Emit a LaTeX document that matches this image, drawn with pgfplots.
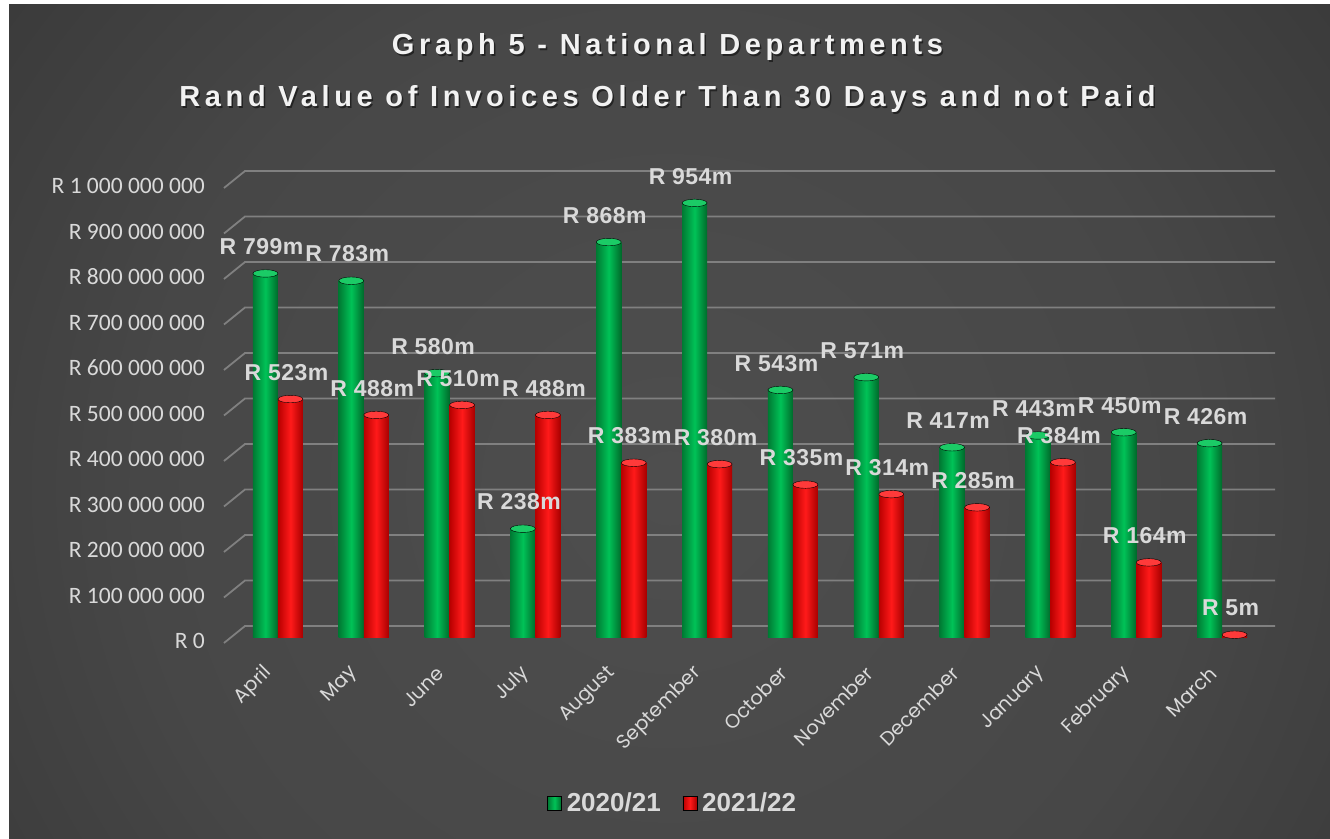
\documentclass[border=0pt]{standalone}
\usepackage{fontspec}
\setmainfont{Liberation Sans}
\usepackage{pgfplots}
\usepackage{pgfplotstable}
\pgfplotsset{compat=1.18}
\newfontfamily\titlefont[LetterSpace=16]{Liberation Sans}
\newfontfamily\lblfont[LetterSpace=2]{Liberation Sans}
\newfontfamily\tickfont{Carlito}
\newfontfamily\xfont{Poppins}
\definecolor{bgA}{HTML}{4E4E4E}
\definecolor{bgB}{HTML}{474747}
\definecolor{bgE}{HTML}{3A3A3A}
\definecolor{bgD}{HTML}{2A2A2A}
\definecolor{bgC}{HTML}{262626}
\definecolor{gridc}{HTML}{808080}
\definecolor{lblc}{HTML}{D9D9D9}
\definecolor{titlec}{HTML}{F2F2F2}
\definecolor{gL}{HTML}{007A33}
\definecolor{gM}{HTML}{00C257}
\definecolor{gR}{HTML}{006A2B}
\definecolor{gT}{HTML}{1BCB66}
\definecolor{rL}{HTML}{B80000}
\definecolor{rM}{HTML}{FF1A1A}
\definecolor{rR}{HTML}{A80000}
\definecolor{rT}{HTML}{FF3A3A}
\pgfdeclareradialshading{bgshade}{\pgfpoint{0bp}{0bp}}{color(0bp)=(bgA); color(20bp)=(bgB); color(32bp)=(bgE); color(50bp)=(bgD); color(72bp)=(bgC)}
\pgfplotstableread{
idx a b
0 799 523
1 783 488
2 580 510
3 238 488
4 868 383
5 954 380
6 543 335
7 571 314
8 417 285
9 443 384
10 450 164
11 426 5
}\datatable
\begin{document}
\begin{tikzpicture}
\fill[white] (0pt,0pt) rectangle (1330pt,838pt);
\begin{scope}
\clip (9pt,0pt) rectangle (1330pt,833pt);
\shade[shading=bgshade] (9pt,-300pt) rectangle (1330pt,1000pt);
\end{scope}
\node[font=\titlefont\bfseries\fontsize{29}{34}\selectfont, text=black, opacity=0.5] at (669pt, 789pt) {Graph 5 - National Departments};
\node[font=\titlefont\bfseries\fontsize{29}{34}\selectfont, text=titlec] at (667.5pt, 791pt) {Graph 5 - National Departments};
\node[font=\titlefont\bfseries\fontsize{29}{34}\selectfont, text=black, opacity=0.5] at (669pt, 737pt) {Rand Value of Invoices Older Than 30 Days and not Paid};
\node[font=\titlefont\bfseries\fontsize{29}{34}\selectfont, text=titlec] at (667.5pt, 739pt) {Rand Value of Invoices Older Than 30 Days and not Paid};
\begin{axis}[
  at={(235pt,201pt)}, anchor=south west,
  scale only axis, width=1030pt, height=455pt,
  xmin=-0.5, xmax=11.5, ymin=0, ymax=1000,
  clip=false,
  axis line style={draw=none},
  major tick length=0pt,
  ybar=0pt, bar width=25pt,
  xtick={0,...,11},
  xticklabels={April,May,June,July,August,September,October,November,December,January,February,March},
  xticklabel style={font=\xfont\fontsize{19.5}{23}\selectfont, text=lblc, inner sep=0pt, xshift=-9pt, yshift=-33pt, rotate=45, anchor=east},
  ytick={0,100,...,1000},
  yticklabels={R 0,R 100 000 000,R 200 000 000,R 300 000 000,R 400 000 000,R 500 000 000,R 600 000 000,R 700 000 000,R 800 000 000,R 900 000 000,R 1 000 000 000},
  yticklabel style={font=\tickfont\fontsize{23.5}{27}\selectfont, text=lblc, anchor=east, inner sep=0pt, xshift=-30pt, yshift=-4pt},
  /pgf/number format/assume math mode=true,
  nodes near coords={R \pgfmathprintnumber{\pgfplotspointmeta}m},
  every node near coord/.append style={font=\lblfont\bfseries\fontsize{23}{27}\selectfont, text=lblc, anchor=south, yshift=15pt},
  legend style={at={(0.425,-0.365)}, anchor=center, draw=none, fill=none, legend columns=2,
    font=\bfseries\fontsize{26}{30}\selectfont, text=lblc,
    /tikz/every odd column/.append style={column sep=3pt},
    /tikz/every even column/.append style={column sep=20pt}},
  greenbar/.style={draw=none, left color=gL, right color=gR, middle color=gM, bar shift=-12.5pt,
    mark=*, mark size=12.5pt, mark options={xshift=-12.5pt, yscale=0.3, fill=gT, draw=none},
    every node near coord/.append style={xshift=8.5pt}},
  redbar/.style={draw=none, left color=rL, right color=rR, middle color=rM, bar shift=12.5pt,
    mark=*, mark size=12.5pt, mark options={xshift=12.5pt, yscale=0.3, fill=rT, draw=none},
    every node near coord/.append style={xshift=-16.5pt}},
]
\pgfplotsinvokeforeach{0,100,...,1000}{
  \draw[gridc, line width=1.8pt] ([xshift=-11pt,yshift=-6pt]axis cs:-0.5,#1) -- ([xshift=10pt,yshift=11pt]axis cs:-0.5,#1) -- ([xshift=10pt,yshift=11pt]axis cs:11.5,#1);
}
\addlegendimage{legend image code/.code={\fill[left color=gL, right color=gR, middle color=gM] (0pt,-7pt) rectangle (14pt,7pt);}}
\addlegendentry{2020/21}
\addlegendimage{legend image code/.code={\fill[left color=rL, right color=rR, middle color=rM] (0pt,-7pt) rectangle (14pt,7pt);}}
\addlegendentry{2021/22}
\pgfplotsinvokeforeach{0,...,11}{
  \addplot[greenbar, forget plot, restrict x to domain=#1:#1] table[x=idx, y=a]{\datatable};
  \addplot[redbar, forget plot, restrict x to domain=#1:#1] table[x=idx, y=b]{\datatable};
}
\end{axis}
\end{tikzpicture}
\end{document}
